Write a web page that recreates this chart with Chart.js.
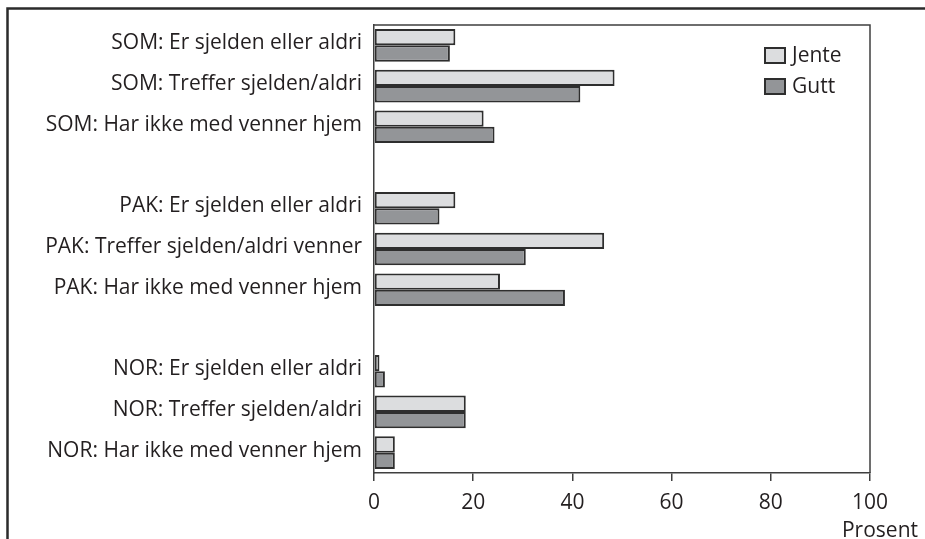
<!DOCTYPE html>
<html>
<head>
<meta charset="utf-8">
<script src="https://cdn.jsdelivr.net/npm/chart.js@4/dist/chart.umd.min.js"></script>
<style>
  html, body { margin: 0; padding: 0; background: #ffffff; }
  #wrap { position: relative; width: 925px; height: 539px; }
</style>
</head>
<body>
<div id="wrap"><canvas id="c" width="925" height="539"></canvas></div>
<script>
// ---- data ----
const categories = [
  "SOM: Er sjelden eller aldri",
  "SOM: Treffer sjelden/aldri",
  "SOM: Har ikke med venner hjem",
  "",
  "PAK: Er sjelden eller aldri",
  "PAK: Treffer sjelden/aldri venner",
  "PAK: Har ikke med venner hjem",
  "",
  "NOR: Er sjelden eller aldri",
  "NOR: Treffer sjelden/aldri",
  "NOR: Har ikke med venner hjem"
];
const jente = [16.4, 48.5, 22.1, null, 16.4, 46.4, 25.4, null, 1.1, 18.5, 4.2];
const gutt  = [15.3, 41.6, 24.3, null, 13.2, 30.6, 38.5, null, 2.2, 18.5, 4.2];
const seriesNames = ["Jente", "Gutt"];
const xTicks = [0, 20, 40, 60, 80, 100];
const axisTitle = "Prosent";

const FONT = "'Open Sans', 'Noto Sans', sans-serif";
const FSIZE = 21;
const TEXT = "#231f20";
const EDGE = "#2e2e2e";
const FILLS = ["#dcdddf", "#939598"];

const framePlugin = {
  id: 'frame',
  beforeDraw(chart) {
    const ctx = chart.ctx;
    ctx.save();
    ctx.strokeStyle = "#2b2b2b";
    ctx.lineWidth = 2.5;
    ctx.strokeRect(7.5, 8.5, 940, 560);
    ctx.restore();
  },
  afterDraw(chart) {
    const ctx = chart.ctx;
    const a = chart.chartArea;
    ctx.save();
    // plot box top/right
    ctx.strokeStyle = "#3f3f3f";
    ctx.lineWidth = 1.5;
    ctx.beginPath();
    ctx.moveTo(a.left, a.top);
    ctx.lineTo(a.right, a.top);
    ctx.lineTo(a.right, a.bottom);
    ctx.stroke();
    // legend
    ctx.font = FSIZE + "px " + FONT;
    ctx.textBaseline = "middle";
    ctx.textAlign = "left";
    chart.data.datasets.forEach((ds, i) => {
      const bx = a.right - 105, by = a.top + 23 + i * 31;
      ctx.fillStyle = ds.backgroundColor;
      ctx.fillRect(bx, by, 20, 15);
      ctx.strokeStyle = EDGE;
      ctx.lineWidth = 2;
      ctx.strokeRect(bx, by, 20, 15);
      ctx.fillStyle = TEXT;
      ctx.fillText(ds.label, bx + 27, by + 8);
    });
    // axis title
    ctx.textAlign = "right";
    ctx.fillText(axisTitle, 918, 531);
    ctx.restore();
  }
};

new Chart(document.getElementById('c'), {
  type: 'bar',
  data: {
    labels: categories,
    datasets: [
      { label: seriesNames[0], data: jente, backgroundColor: FILLS[0], borderColor: EDGE, borderWidth: 2, borderSkipped: false },
      { label: seriesNames[1], data: gutt,  backgroundColor: FILLS[1], borderColor: EDGE, borderWidth: 2, borderSkipped: false }
    ]
  },
  options: {
    indexAxis: 'y',
    responsive: false,
    animation: false,
    devicePixelRatio: 1,
    layout: { padding: { left: 0, top: 25, right: 55, bottom: 0 } },
    datasets: { bar: { categoryPercentage: 0.8, barPercentage: 1.0 } },
    plugins: { legend: { display: false }, tooltip: { enabled: false } },
    scales: {
      x: {
        type: 'linear',
        min: 0, max: 100,
        afterBuildTicks(s) { s.ticks = xTicks.map(v => ({ value: v })); },
        afterFit(s) { s.height = 66; },
        grid: { display: true, drawOnChartArea: false, drawTicks: true, tickLength: 8, color: "#3f3f3f", lineWidth: 1.5 },
        border: { display: true, color: "#3f3f3f", width: 1.5 },
        ticks: { color: TEXT, font: { family: FONT, size: FSIZE }, padding: 9, maxRotation: 0 }
      },
      y: {
        afterFit(s) { s.width = 374; },
        grid: { display: false, drawTicks: false },
        border: { display: true, color: "#3f3f3f", width: 1.5 },
        ticks: { color: TEXT, font: { family: FONT, size: FSIZE }, padding: 12, labelOffset: -2, autoSkip: false }
      }
    }
  },
  plugins: [framePlugin]
});
</script>
</body>
</html>
